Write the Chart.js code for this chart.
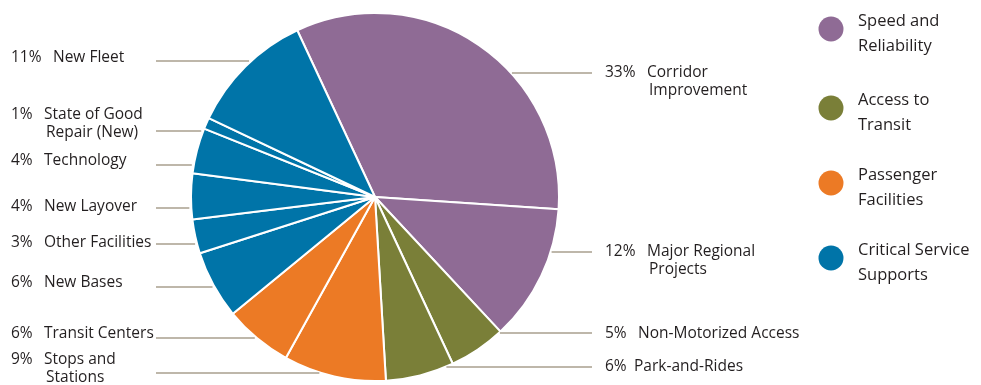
<!DOCTYPE html>
<html>
<head>
<meta charset="utf-8">
<script src="https://cdn.jsdelivr.net/npm/chart.js@4.4.1/dist/chart.umd.min.js"></script>
<style>
  body { margin: 0; background: #fff; }
  #wrap { width: 981px; height: 385px; position: relative; }
</style>
</head>
<body>
<div id="wrap"><canvas id="chart"></canvas></div>
<script>
// slices, clockwise from the top
const categories = [
  ['Corridor', 'Improvement'],
  ['Major Regional', 'Projects'],
  ['Non-Motorized Access'],
  ['Park-and-Rides'],
  ['Stops and', 'Stations'],
  ['Transit Centers'],
  ['New Bases'],
  ['Other Facilities'],
  ['New Layover'],
  ['Technology'],
  ['State of Good', 'Repair (New)'],
  ['New Fleet']
];
const values = [33, 12, 5, 6, 9, 6, 6, 3, 4, 4, 1, 11];
const groupOf = [0, 0, 1, 1, 2, 2, 3, 3, 3, 3, 3, 3];
const groupNames = [['Speed and', 'Reliability'], ['Access to', 'Transit'], ['Passenger', 'Facilities'], ['Critical Service', 'Supports']];
const groupColors = ['#8f6b95', '#7a7f38', '#ec7a25', '#0074a8'];

// label placement: text y, leader y, side, x of the name text
const labelPos = [
  { y: 73, ly: 73, side: 'r', nx: 647 },
  { y: 252, ly: 252, side: 'r', nx: 647 },
  { y: 334, ly: 333, side: 'r', nx: 638 },
  { y: 367, ly: 367, side: 'r', nx: 634 },
  { y: 360, ly: 373, side: 'l', nx: 44 },
  { y: 334, ly: 338, side: 'l', nx: 44 },
  { y: 283, ly: 287, side: 'l', nx: 44 },
  { y: 243, ly: 244, side: 'l', nx: 44 },
  { y: 207, ly: 208, side: 'l', nx: 44 },
  { y: 161, ly: 165, side: 'l', nx: 44 },
  { y: 115, ly: 131, side: 'l', nx: 44 },
  { y: 58, ly: 61, side: 'l', nx: 53 }
];

const FONT = '15.5px "Open Sans", "Noto Sans", sans-serif';
const TEXT = '#231f20';

const labelsPlugin = {
  id: 'labels',
  afterDraw(chart) {
    const ctx = chart.ctx;
    const arc = chart.getDatasetMeta(0).data[0];
    const cx = arc.x, cy = arc.y, r = arc.outerRadius;
    ctx.save();
    ctx.font = FONT;
    ctx.textBaseline = 'middle';
    ctx.fillStyle = TEXT;
    categories.forEach((lines, i) => {
      const p = labelPos[i];
      const dy = p.ly - cy;
      const dx = Math.sqrt(Math.max(0, r * r - dy * dy));
      ctx.strokeStyle = '#a99f8e';
      ctx.lineWidth = 1.5;
      ctx.beginPath();
      if (p.side === 'l') {
        ctx.moveTo(156, p.ly);
        ctx.lineTo(cx - dx - 2, p.ly);
      } else {
        ctx.moveTo(cx + dx + 1, p.ly);
        ctx.lineTo(592, p.ly);
      }
      ctx.stroke();
      const px = p.side === 'l' ? 11 : 605;
      ctx.textAlign = 'left';
      ctx.fillText(values[i] + '%', px, p.y);
      lines.forEach((t, k) => ctx.fillText(t, p.nx + (k ? 2 : 0), p.y + k * 18));
    });
    // legend
    const ly = [29, 108, 183, 258];
    groupNames.forEach((g, i) => {
      ctx.fillStyle = groupColors[i];
      ctx.beginPath();
      ctx.arc(831, ly[i], 12.5, 0, Math.PI * 2);
      ctx.fill();
      ctx.fillStyle = TEXT;
      ctx.font = '16.5px "Open Sans", "Noto Sans", sans-serif';
      g.forEach((t, k) => ctx.fillText(t, 858, ly[i] - 8 + k * 25));
    });
    ctx.restore();
  }
};

new Chart(document.getElementById('chart'), {
  type: 'pie',
  plugins: [labelsPlugin],
  data: {
    labels: categories.map(c => c.join(' ')),
    datasets: [{
      data: values,
      backgroundColor: groupOf.map(g => groupColors[g]),
      borderColor: '#ffffff',
      borderWidth: 2
    }]
  },
  options: {
    responsive: true,
    maintainAspectRatio: false,
    animation: false,
    rotation: -25,
    layout: { padding: { left: 190, right: 421, top: 12, bottom: 3 } },
    plugins: { legend: { display: false }, tooltip: { enabled: false } }
  }
});
</script>
</body>
</html>
